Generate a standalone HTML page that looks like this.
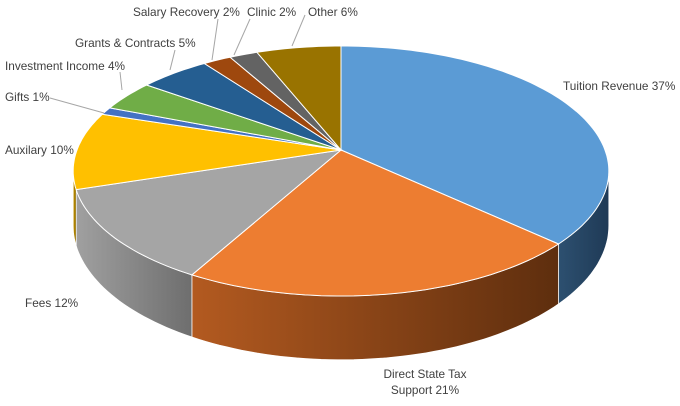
<!DOCTYPE html>
<html><head><meta charset="utf-8">
<style>
html,body{margin:0;padding:0;background:#fff;}
#wrap{width:680px;height:406px;position:relative;overflow:hidden;}
text{font-family:"Liberation Sans",sans-serif;font-size:11.8px;fill:#404040;}
</style></head>
<body>
<div id="wrap">
<svg id="chart" width="680" height="406"></svg>
</div>
<script>
const categories = ["Tuition Revenue","Direct State Tax Support","Fees","Auxilary","Gifts","Investment Income","Grants & Contracts","Salary Recovery","Clinic","Other"];
const values = [37,21,12,10,1,4,5,2,2,6];
const colors = ["#5b9bd5","#ed7d31","#a5a5a5","#ffc000","#4472c4","#70ad47","#255e91","#9e480e","#636363","#997300"];
const sideDark = ["#1f3a56","#5e2e0e","#6e6e6e","#8a6800","#243d6a","#3c5e26","#14324e","#552607","#353535","#524000"];
const sideLight = ["#2d5070","#b35a20","#a0a0a0","#c99700","#3a5ca0","#5a8c3a","#1e4a72","#7a3a0a","#4a4a4a","#7a5c00"];
const labelLines = [["Tuition Revenue 37%"],["Direct State Tax","Support 21%"],["Fees 12%"],["Auxilary 10%"],["Gifts 1%"],["Investment Income 4%"],["Grants & Contracts 5%"],["Salary Recovery 2%"],["Clinic 2%"],["Other 6%"]];
const labelPos = [[563,90,"start"],[425,378,"middle"],[25,307,"start"],[5,154,"start"],[5,101,"start"],[5,70,"start"],[75,47,"start"],[133,16,"start"],[247,16,"start"],[308,16,"start"]];
const leaders = {4:[[50,98],[104,113]],5:[[120,72],[122,90]],6:[[175,50],[170,70]],7:[[218,19],[212,60]],8:[[250,19],[234,55]],9:[[305,15],[292,46]]};

const svg = document.getElementById('chart');
const NS = "http://www.w3.org/2000/svg";
const ax=341, ay=150, A=264, B=121.5, K=0.168, depth=53;
function pt(a,down){const r=a*Math.PI/180;const u=Math.sin(r), v=-Math.cos(r);const f=1/(1-K*v);return [ax+A*u*f, ay+B*v*f+(down?depth*f:0)];}
function arc(a1,a2,down){let s=[];const n=Math.max(2,Math.ceil(Math.abs(a2-a1)/1.5));for(let i=0;i<=n;i++){const p=pt(a1+(a2-a1)*i/n,down);s.push(p[0].toFixed(1)+","+p[1].toFixed(1));}return s;}
const total = values.reduce((a,b)=>a+b,0);
let defs=document.createElementNS(NS,'defs');svg.appendChild(defs);
let angles=[];let acc=0;
values.forEach(v=>{const a1=acc/total*360;acc+=v;angles.push([a1,acc/total*360]);});
const sil=Math.acos(-K)*180/Math.PI;
angles.forEach(([a1,a2],i)=>{
  const s=Math.max(a1,sil), e=Math.min(a2,360-sil);
  if(e<=s) return;
  const g=document.createElementNS(NS,'linearGradient');
  g.setAttribute('id','g'+i);g.setAttribute('gradientUnits','userSpaceOnUse');
  const p1=pt(s),p2=pt(e);
  g.setAttribute('x1',p2[0]);g.setAttribute('x2',p1[0]);g.setAttribute('y1',0);g.setAttribute('y2',0);
  g.innerHTML='<stop offset="0" stop-color="'+sideLight[i]+'"/><stop offset="1" stop-color="'+sideDark[i]+'"/>';
  defs.appendChild(g);
  const top=arc(s,e,false), bot=arc(e,s,true);
  const p=document.createElementNS(NS,'polygon');
  p.setAttribute('points',top.concat(bot).join(' '));
  p.setAttribute('fill','url(#g'+i+')');p.setAttribute('stroke','#fff');p.setAttribute('stroke-width','0.7');
  
  
  svg.appendChild(p);
});
angles.forEach(([a1,a2],i)=>{
  const p=document.createElementNS(NS,'polygon');
  p.setAttribute('points',[ax+","+ay].concat(arc(a1,a2,false)).join(' '));
  p.setAttribute('fill',colors[i]);p.setAttribute('stroke','#fff');p.setAttribute('stroke-width','1');
  
  
  svg.appendChild(p);
});
Object.keys(leaders).forEach(k=>{
  const l=leaders[k];const ln=document.createElementNS(NS,'line');
  ln.setAttribute('x1',l[0][0]);ln.setAttribute('y1',l[0][1]);ln.setAttribute('x2',l[1][0]);ln.setAttribute('y2',l[1][1]);
  ln.setAttribute('stroke','#a6a6a6');ln.setAttribute('stroke-width','1');
  
  
  svg.appendChild(ln);
});
labelLines.forEach((lines,i)=>{
  const t=document.createElementNS(NS,'text');
  t.setAttribute('x',labelPos[i][0]);t.setAttribute('y',labelPos[i][1]);t.setAttribute('text-anchor',labelPos[i][2]);
  lines.forEach((s,j)=>{const ts=document.createElementNS(NS,'tspan');ts.setAttribute('x',labelPos[i][0]);if(j>0)ts.setAttribute('dy','16');ts.textContent=s;t.appendChild(ts);});
  
  
  svg.appendChild(t);
});
</script>
</body></html>
